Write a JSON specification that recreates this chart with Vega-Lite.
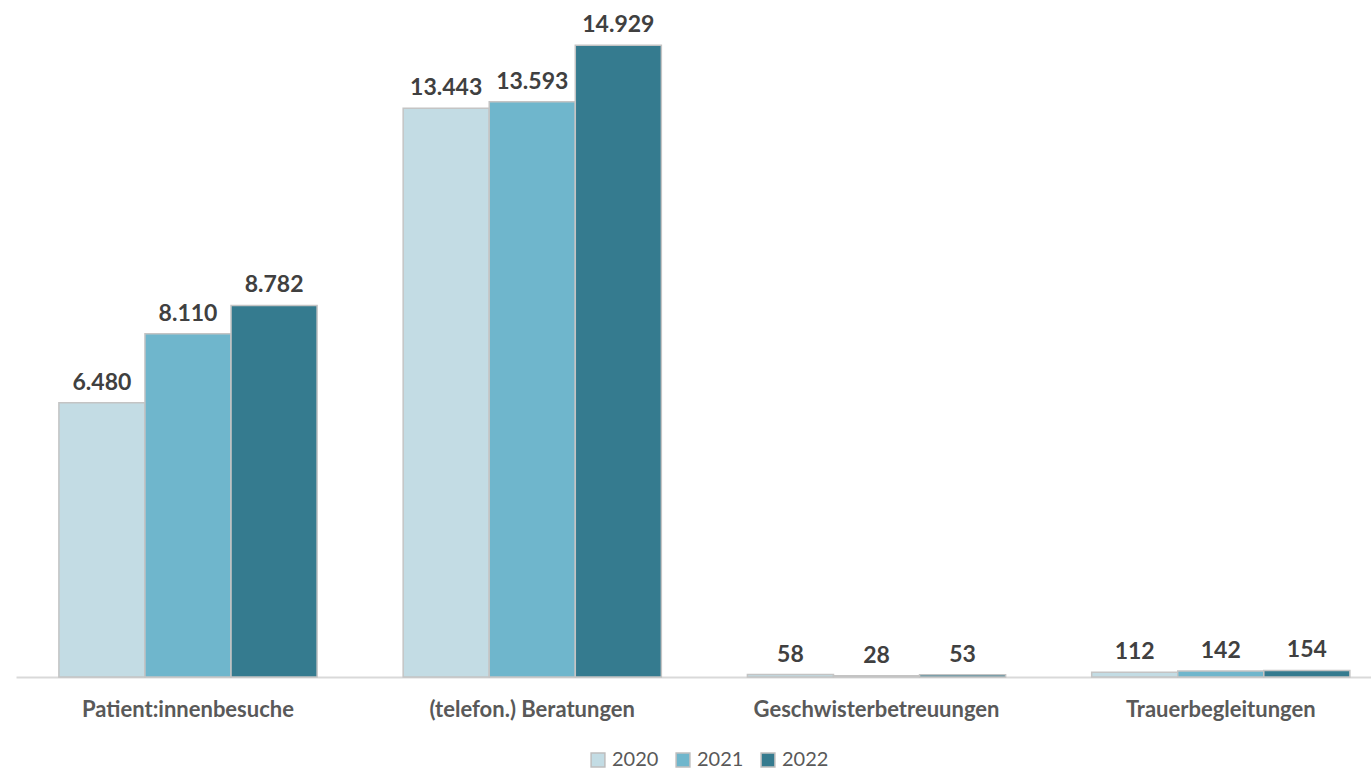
{
  "$schema": "https://vega.github.io/schema/vega-lite/v6.json",
  "width": 1355,
  "height": 677,
  "autosize": {"type": "none"},
  "padding": {"left": 16, "top": 0, "right": 0, "bottom": 95},
  "background": "#ffffff",
  "config": {
    "locale": {"number": {"decimal": ",", "thousands": ".", "grouping": [3], "currency": ["", " €"]}},
    "view": {"stroke": null},
    "font": "Lato"
  },
  "data": {
    "values": [
      {"cat": "Patient:innenbesuche", "year": "2020", "value": 6480},
      {"cat": "Patient:innenbesuche", "year": "2021", "value": 8110},
      {"cat": "Patient:innenbesuche", "year": "2022", "value": 8782},
      {"cat": "(telefon.) Beratungen", "year": "2020", "value": 13443},
      {"cat": "(telefon.) Beratungen", "year": "2021", "value": 13593},
      {"cat": "(telefon.) Beratungen", "year": "2022", "value": 14929},
      {"cat": "Geschwisterbetreuungen", "year": "2020", "value": 58},
      {"cat": "Geschwisterbetreuungen", "year": "2021", "value": 28},
      {"cat": "Geschwisterbetreuungen", "year": "2022", "value": 53},
      {"cat": "Trauerbegleitungen", "year": "2020", "value": 112},
      {"cat": "Trauerbegleitungen", "year": "2021", "value": 142},
      {"cat": "Trauerbegleitungen", "year": "2022", "value": 154}
    ]
  },
  "encoding": {
    "x": {
      "field": "cat", "type": "nominal", "sort": null,
      "scale": {"paddingInner": 0.25, "paddingOuter": 0.093, "align": 0.67},
      "axis": {
        "title": null, "labelAngle": 0, "ticks": false, "labelLimit": 400,
        "domainColor": "#d9d9d9", "domainWidth": 2,
        "labelFont": "Lato", "labelFontSize": 22, "labelFontWeight": "bold",
        "labelColor": "#595959", "labelPadding": 22
      }
    },
    "xOffset": {"field": "year", "type": "nominal", "scale": {"paddingInner": 0, "paddingOuter": 0}},
    "y": {
      "field": "value", "type": "quantitative",
      "scale": {"domain": [0, 16000], "nice": false},
      "axis": null
    }
  },
  "layer": [
    {
      "mark": {"type": "bar", "stroke": "#c4c4c4", "strokeWidth": 1.5},
      "encoding": {
        "color": {
          "field": "year", "type": "nominal",
          "scale": {"domain": ["2020", "2021", "2022"], "range": ["#c3dce4", "#6fb6cc", "#357b8f"]},
          "legend": {
            "title": null, "orient": "none", "direction": "horizontal",
            "legendX": 572, "legendY": 750,
            "symbolType": "square", "symbolSize": 190, "symbolStrokeColor": "#bdbdbd", "symbolStrokeWidth": 1.5,
            "labelFont": "Lato", "labelFontSize": 20, "labelColor": "#595959",
            "columnPadding": 14, "labelOffset": 4
          }
        }
      }
    },
    {
      "mark": {"type": "text", "baseline": "bottom", "dy": -8, "fontSize": 23, "fontWeight": "bold", "color": "#404040", "font": "Lato"},
      "encoding": {
        "text": {"field": "value", "type": "quantitative", "format": ",d"}
      }
    }
  ]
}
